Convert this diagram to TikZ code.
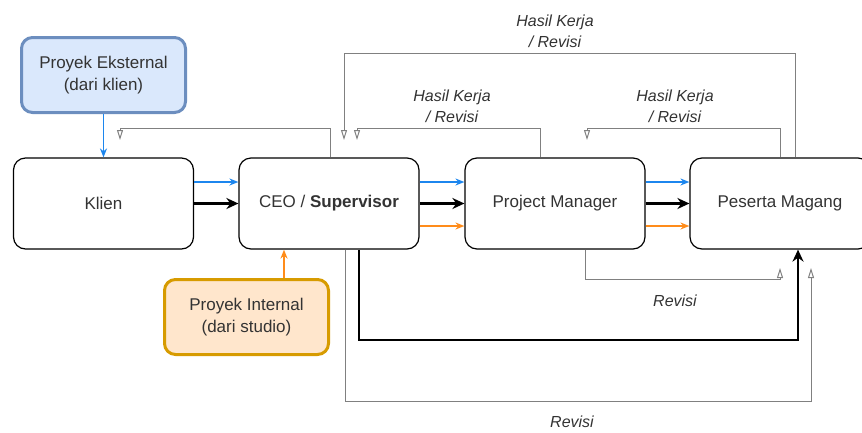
\documentclass[tikz,border=0pt]{standalone}
\usepackage{fontspec}
\setmainfont{Liberation Sans}
\usetikzlibrary{arrows.meta}

\definecolor{flowblue}{HTML}{1C86EE}
\definecolor{floworange}{HTML}{FF8C1A}
\definecolor{backgray}{HTML}{808080}
\definecolor{extfill}{HTML}{DAE8FC}
\definecolor{extline}{HTML}{6C8EBF}
\definecolor{intfill}{HTML}{FFE6CC}
\definecolor{intline}{HTML}{D79B00}
\definecolor{txtgray}{HTML}{333333}

\tikzset{
  role/.style={draw=black, line width=1.2pt, rounded corners=12pt, fill=white,
    minimum width=180pt, minimum height=91pt, text=txtgray,
    font=\fontsize{17}{21}\selectfont},
  origin/.style={line width=3pt, rounded corners=11pt, align=center,
    minimum width=164pt, minimum height=75pt, text=txtgray,
    font=\fontsize{17}{22}\selectfont},
  blueflow/.style={draw=flowblue, line width=1.5pt, -{Stealth[length=9pt,width=7pt]}},
  orangeflow/.style={draw=floworange, line width=1.5pt, -{Stealth[length=9pt,width=7pt]}},
  mainflow/.style={draw=black, line width=2.6pt, -{Stealth[length=12pt,width=11pt]}},
  feedback/.style={draw=backgray, line width=1pt, -{Triangle[open,length=10pt,width=6pt]}},
  note/.style={align=center, text=txtgray, font=\fontsize{16}{21}\selectfont\itshape}
}

\begin{document}
\begin{tikzpicture}[x=1pt,y=-1pt]
    \useasboundingbox (0,0) rectangle (862,432);

    % boxes
    \node[role] (klien) at (103.5,203.5) {Klien};
    \node[role] (ceo) at (329,203.5) {CEO / \textbf{Supervisor}};
    \node[role] (pm) at (555,203.5) {Project Manager};
    \node[role] (magang) at (780,203.5) {Peserta Magang};
    \node[origin, draw=extline, fill=extfill] (eks) at (103.5,75) {Proyek Eksternal\\(dari klien)};
    \node[origin, draw=intline, fill=intfill] (int) at (246.5,317) {Proyek Internal\\(dari studio)};

    % ends of the feedback lines
    \coordinate (toklien) at (120,140);
    \coordinate (toceoA) at (344,140);
    \coordinate (toceoB) at (357,140);
    \coordinate (topm) at (587,140);
    \coordinate (tomagA) at (780,268);
    \coordinate (tomagB) at (811,268);

    % projects in
    \draw[blueflow] (eks) -- (klien);
    \draw[orangeflow] ([xshift=37.5pt]int.north) -- ([xshift=37.5pt]int.north |- ceo.south);

    % forward flow
    \draw[blueflow] ([yshift=21.5pt]klien.east) -- ([yshift=21.5pt]ceo.west);
    \draw[mainflow] (klien) -- (ceo);
    \draw[blueflow] ([yshift=21.5pt]ceo.east) -- ([yshift=21.5pt]pm.west);
    \draw[mainflow] (ceo) -- (pm);
    \draw[orangeflow] ([yshift=-22.5pt]ceo.east) -- ([yshift=-22.5pt]pm.west);
    \draw[blueflow] ([yshift=21.5pt]pm.east) -- ([yshift=21.5pt]magang.west);
    \draw[mainflow] (pm) -- (magang);
    \draw[orangeflow] ([yshift=-22.5pt]pm.east) -- ([yshift=-22.5pt]magang.west);
    \draw[mainflow, rounded corners=0pt] ([xshift=30pt]ceo.south) |- (798,340) -- ([xshift=18pt]magang.south);

    % feedback
    \draw[feedback] ([xshift=1pt]ceo.north) |- (120,128) -- (toklien);
    \draw[feedback] ([xshift=-15pt]pm.north) |- (357,128) -- (toceoB);
    \draw[feedback] ([xshift=15pt]magang.north) |- (344,53) -- (toceoA);
    \draw[feedback] (magang.north) |- (587,128) -- (topm);
    \draw[feedback] ([xshift=30pt]pm.south) |- (780,279) -- (tomagA);
    \draw[feedback] ([xshift=16pt]ceo.south) |- (811,401) -- (tomagB);

    % labels
    \node[note] (lbtop) at (555,31) {Hasil Kerja\\/ Revisi};
    \node[note] (lbpm) at (452,106) {Hasil Kerja\\/ Revisi};
    \node[note] (lbmag) at (675,106) {Hasil Kerja\\/ Revisi};
    \node[note] (lbrev) at (675,301) {Revisi};
    \node[note] (lbrevb) at (572,422) {Revisi};
\end{tikzpicture}
\end{document}
